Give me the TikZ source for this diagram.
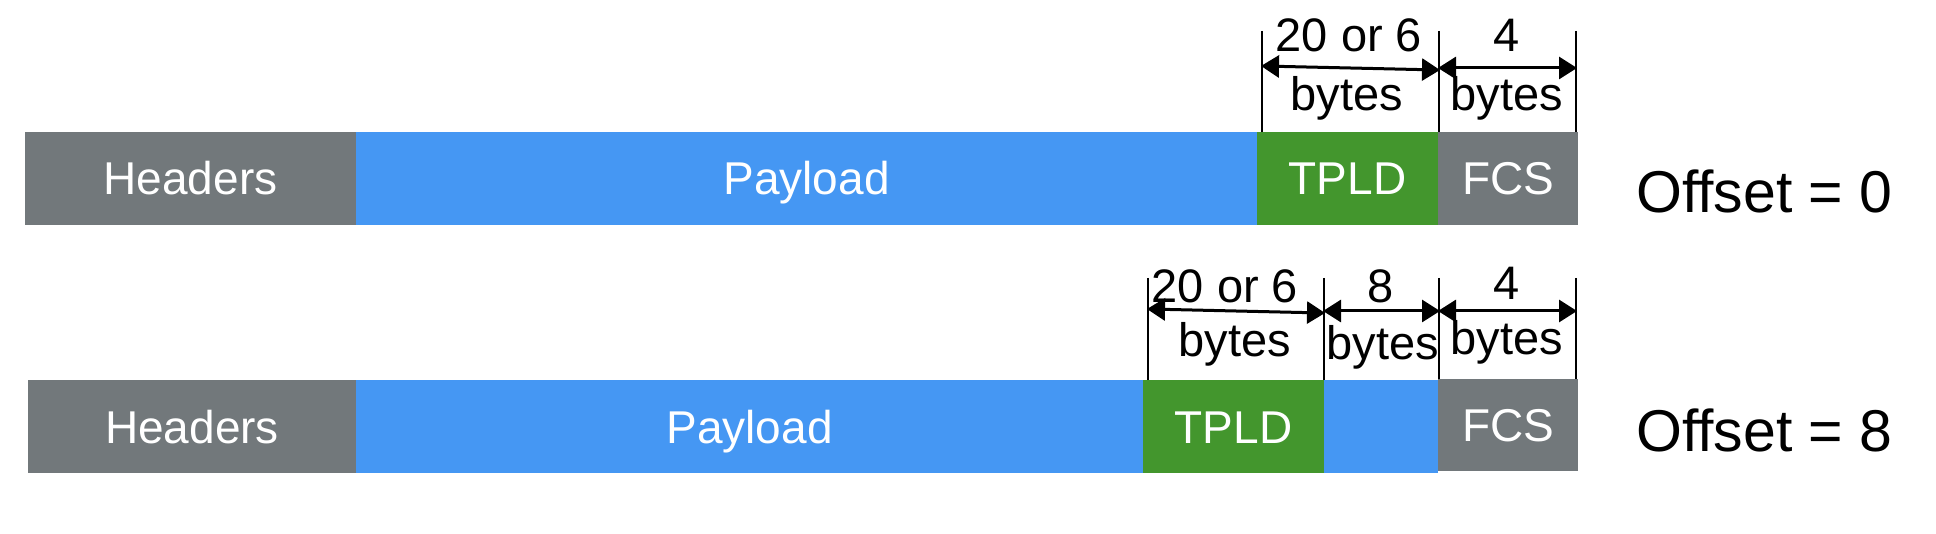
\documentclass[tikz,border=0pt]{standalone}
\usepackage{fontspec}
\setmainfont{Liberation Sans}
\usetikzlibrary{arrows.meta}
\definecolor{hgray}{RGB}{114,120,123}
\definecolor{pblue}{RGB}{69,151,243}
\definecolor{tgreen}{RGB}{67,150,45}
\tikzset{
  seg/.style={anchor=north west, inner sep=0pt, outer sep=0pt, minimum height=93pt, text=white, text height=33pt, text depth=0pt, font=\fontsize{46}{52}\selectfont},
  tick/.style={line width=2pt},
  dim/.style={line width=3pt, {Triangle[length=18pt,width=22pt]}-{Triangle[length=18pt,width=22pt]}, shorten <=-1pt, shorten >=-1pt},
  dimlbl/.style={inner sep=0pt, font=\fontsize{47}{52}\selectfont},
  offlbl/.style={anchor=west, inner sep=0pt, font=\fontsize{59}{66}\selectfont}
}
\begin{document}
\begin{tikzpicture}[x=1pt,y=-1pt]
\useasboundingbox (0,0) rectangle (1936,534);
% row 1
\node[seg, fill=hgray, minimum width=331pt] (H1) at (25,132) {Headers};
\node[seg, fill=pblue, minimum width=901pt] (P1) at (356,132) {Payload};
\node[seg, fill=tgreen, minimum width=181pt] (T1) at (1257,132) {TPLD};
\node[seg, fill=hgray, minimum width=140pt] (F1) at (1438,132) {FCS};
\node[offlbl] (O1) at (1636,191) {Offset = 0};
% row 1 dimension ticks
\coordinate (a1t) at (1262,31); \coordinate (a1b) at (1262,132);
\coordinate (b1t) at (1439,31); \coordinate (b1b) at (1439,132);
\coordinate (c1t) at (1576,31); \coordinate (c1b) at (1576,132);
\draw[tick] (a1t) -- (a1b);
\draw[tick] (b1t) -- (b1b);
\draw[tick] (c1t) -- (c1b);
\coordinate (a1m) at (1262,66); \coordinate (b1m) at (1439,70);
\coordinate (b1n) at (1439,68); \coordinate (c1m) at (1576,68);
\draw[dim] (a1m) -- (b1m);
\draw[dim] (b1n) -- (c1m);
\node[dimlbl] (L1a) at (1349,35) {20 or 6};
\node[dimlbl] (L1b) at (1347,98) {bytes};
\node[dimlbl] (L1c) at (1507,35) {4};
\node[dimlbl] (L1d) at (1507,98) {bytes};
% row 2
\node[seg, fill=hgray, minimum width=328pt] (H2) at (28,380) {Headers};
\node[seg, fill=pblue, minimum width=787pt] (P2) at (356,380) {Payload};
\node[seg, fill=tgreen, minimum width=181pt] (T2) at (1143,380) {TPLD};
\node[seg, fill=pblue, minimum width=114pt] (B2) at (1324,380) {};
\node[seg, fill=hgray, minimum width=140pt, minimum height=92pt] (F2) at (1438,379) {FCS};
\node[offlbl] (O2) at (1636,430) {Offset = 8};
% row 2 dimension ticks
\coordinate (a2t) at (1148,278); \coordinate (a2b) at (1148,380);
\coordinate (b2t) at (1324,278); \coordinate (b2b) at (1324,380);
\coordinate (c2t) at (1439,278); \coordinate (c2b) at (1439,379);
\coordinate (d2t) at (1576,278); \coordinate (d2b) at (1576,379);
\draw[tick] (a2t) -- (a2b);
\draw[tick] (b2t) -- (b2b);
\draw[tick] (c2t) -- (c2b);
\draw[tick] (d2t) -- (d2b);
\coordinate (a2m) at (1148,309); \coordinate (b2m) at (1324,313);
\coordinate (b2n) at (1324,311); \coordinate (c2m) at (1439,311);
\coordinate (c2n) at (1439,311); \coordinate (d2m) at (1576,311);
\draw[dim] (a2m) -- (b2m);
\draw[dim] (b2n) -- (c2m);
\draw[dim] (c2n) -- (d2m);
\node[dimlbl] (L2a) at (1225,286) {20 or 6};
\node[dimlbl] (L2b) at (1235,344) {bytes};
\node[dimlbl] (L2c) at (1381,286) {8};
\node[dimlbl] (L2d) at (1383,347) {bytes};
\node[dimlbl] (L2e) at (1507,283) {4};
\node[dimlbl] (L2f) at (1507,342) {bytes};
\end{tikzpicture}
\end{document}
